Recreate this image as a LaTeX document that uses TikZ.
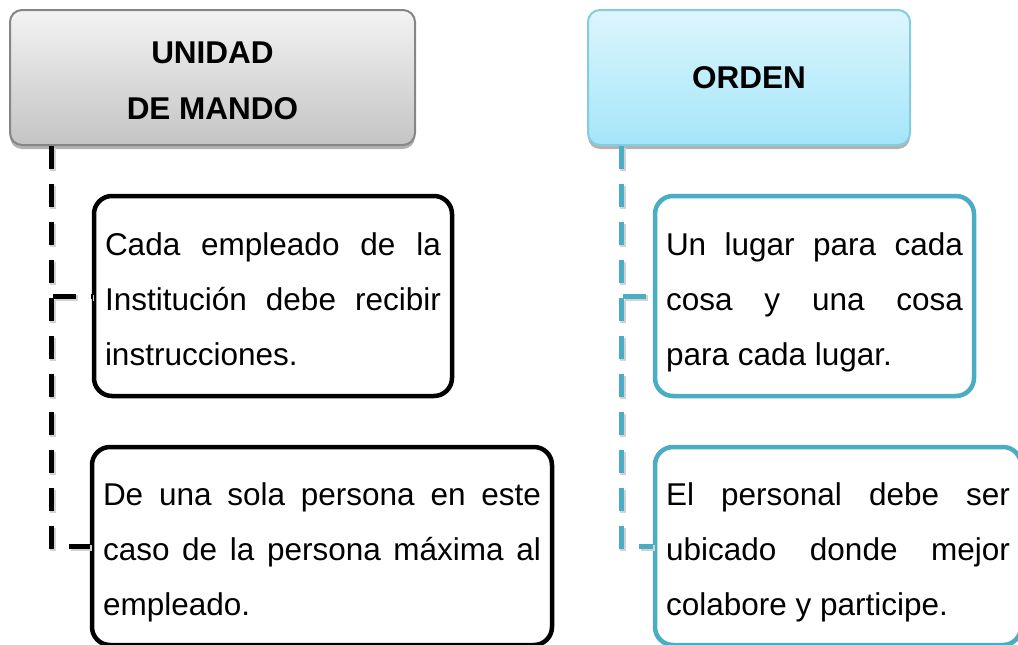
\documentclass[tikz,border=0pt]{standalone}
\usepackage{fontspec}
\setmainfont{Liberation Sans}
\usepackage{tikz}
\usetikzlibrary{shadows, calc}
\definecolor{azul}{HTML}{4BACC6}
\definecolor{azulborde}{HTML}{86CCDF}
\definecolor{azularriba}{HTML}{DDF6FD}
\definecolor{azulabajo}{HTML}{A4E5F9}
\definecolor{grisarriba}{HTML}{F3F3F3}
\definecolor{grisabajo}{HTML}{C4C4C4}
\tolerance=10000
\hbadness=10000
\hyphenpenalty=10000

\begin{document}
\begin{tikzpicture}[x=1pt, y=-1pt,
    cabeza/.style={rounded corners=12pt, minimum height=135pt, align=center,
        line width=2pt, font=\fontsize{31.5}{56}\selectfont\bfseries,
        drop shadow={shadow xshift=0pt, shadow yshift=-4pt, opacity=0.3, fill=black}},
    caja/.style={draw, rounded corners=18pt, line width=4.5pt, align=justify,
        inner xsep=11pt, inner ysep=0pt, fill=white,
        font=\fontsize{31.5}{55}\selectfont,
        execute at begin node=\rule{0pt}{38pt},
        execute at end node=\rule[-10pt]{0pt}{10pt}},
    rayanegra/.style={line width=5pt, dash pattern=on 23pt off 15pt,
        preaction={draw=gray!35, line width=6pt, dash pattern=on 23pt off 15pt,
            transform canvas={shift={(2pt,-2pt)}}}},
    rayaazul/.style={rayanegra, draw=azul}]

    \useasboundingbox (0,0) rectangle (1018,645);

    \node[cabeza, draw=gray!95, top color=grisarriba, bottom color=grisabajo, minimum width=405pt] (unidad) at (212.5, 77.5) {\rule{0pt}{29pt}UNIDAD\\DE MANDO};
    \node[cabeza, draw=azulborde, top color=azularriba, bottom color=azulabajo, minimum width=322pt] (orden) at (749, 77.5) {ORDEN};

    \node[caja, text width=336pt, minimum height=200pt] (cada) at (273, 296)
        {Cada empleado de la\linebreak Institución debe recibir\linebreak instrucciones.};
    \node[caja, text width=438pt, minimum height=198pt] (sola) at (322, 546)
        {De una sola persona en este\linebreak caso de la persona máxima al\linebreak empleado.};

    \node[caja, draw=azul, text width=297pt, minimum height=200pt] (lugar) at (814.5, 296)
        {Un lugar para cada\linebreak cosa y una cosa\linebreak para cada lugar.};
    \node[caja, draw=azul, text width=344pt, minimum height=198pt] (personal) at (838, 546)
        {El personal debe ser\linebreak ubicado donde mejor\linebreak colabore y participe.};

    \coordinate (ucorte) at ([xshift=42pt]unidad.south west);
    \coordinate (ocorte) at ([xshift=34pt]orden.south west);

    \draw[rayanegra] (ucorte) |- (cada.west);
    \draw[rayanegra] (ucorte) |- (sola.west);
    \draw[rayaazul] (ocorte) |- (lugar.west);
    \draw[rayaazul] (ocorte) |- (personal.west);

\end{tikzpicture}
\end{document}
